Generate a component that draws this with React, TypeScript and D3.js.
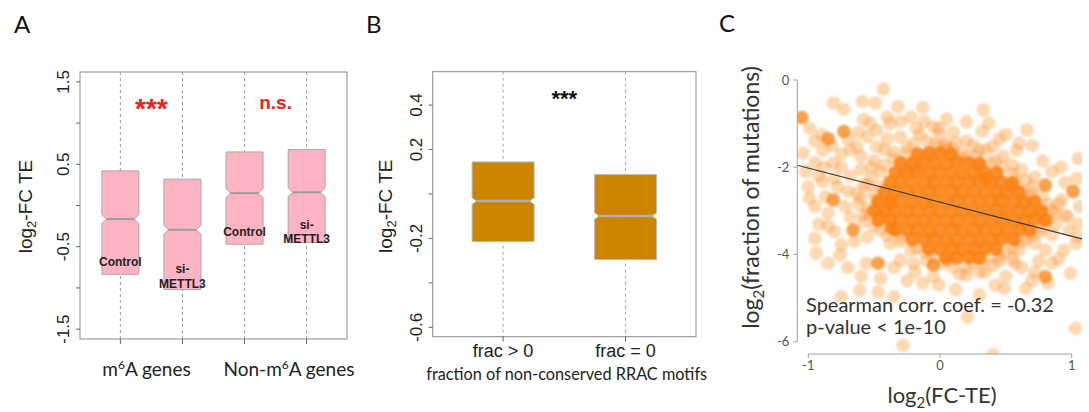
import React from "react";
import * as d3 from "d3";

const W = 1089;
const H = 412;
const ARIAL = "'Liberation Sans', Arial, sans-serif";
const CALIBRI = "Lato, 'Open Sans', sans-serif";

// ---------- Panel A data ----------
const aBoxLabels = [["Control"], ["si-", "METTL3"], ["Control"], ["si-", "METTL3"]];
const aQ3 = [0.42, 0.32, 0.65, 0.68];
const aMedian = [-0.165, -0.295, 0.15, 0.16];
const aQ1 = [-0.835, -1.02, -0.47, -0.45];
const aNotch = [0.055, 0.055, 0.055, 0.055];
const aLabelY = [-0.74, -0.82, -0.376, -0.285];
const aYTicks = [-1.5, -1, -0.5, 0, 0.5, 1, 1.5];
const aYTickLabels = ["-1.5", "", "-0.5", "", "0.5", "", "1.5"];
const aSignif = ["***", "n.s."];
const aGroupNames = ["m", "Non-m"];

// ---------- Panel B data ----------
const bCats = ["frac > 0", "frac = 0"];
const bQ3 = [0.144, 0.087];
const bMedian = [-0.032, -0.099];
const bQ1 = [-0.214, -0.295];
const bNotch = [0.015, 0.015];
const bYTicks = [-0.6, -0.4, -0.2, 0, 0.2, 0.4];
const bYTickLabels = ["-0.6", "", "-0.2", "", "0.2", "0.4"];

// ---------- Panel C data ----------
const cXTicks = [-1, 0, 1];
const cYTicks = [0, -2, -4, -6];
const cIntercept = -2.8;
const cSlope = -0.78;

const corePoints = [
  [-0.17, -1.69], [-0.085, -1.67], [0.0, -1.68], [0.085, -1.7],
  [-0.3, -1.9], [-0.21, -1.91], [-0.125, -1.89], [-0.04, -1.9], [0.05, -1.92], [0.13, -1.88], [0.215, -1.9], [0.3, -1.91],
  [-0.34, -2.12], [-0.25, -2.12], [-0.17, -2.1], [-0.08, -2.13], [0.0, -2.11], [0.09, -2.12], [0.17, -2.14], [0.26, -2.12], [0.34, -2.11], [0.43, -2.13],
  [-0.38, -2.34], [-0.3, -2.34], [-0.21, -2.33], [-0.12, -2.35], [-0.04, -2.34], [0.05, -2.33], [0.13, -2.35], [0.22, -2.34], [0.3, -2.33], [0.39, -2.35], [0.47, -2.34], [0.55, -2.36],
  [-0.42, -2.56], [-0.34, -2.56], [-0.25, -2.55], [-0.17, -2.57], [-0.08, -2.56], [0.0, -2.55], [0.09, -2.57], [0.17, -2.56], [0.26, -2.55], [0.34, -2.57], [0.43, -2.56], [0.51, -2.58], [0.6, -2.57],
  [-0.47, -2.78], [-0.38, -2.78], [-0.3, -2.77], [-0.21, -2.79], [-0.12, -2.78], [-0.04, -2.77], [0.05, -2.79], [0.13, -2.78], [0.22, -2.77], [0.3, -2.79], [0.39, -2.78], [0.47, -2.77], [0.56, -2.79], [0.64, -2.8], [0.72, -2.79],
  [-0.5, -3.0], [-0.42, -3.0], [-0.34, -2.99], [-0.25, -3.01], [-0.17, -3.0], [-0.08, -2.99], [0.0, -3.01], [0.09, -3.0], [0.17, -2.99], [0.26, -3.01], [0.34, -3.0], [0.43, -2.99], [0.51, -3.01], [0.6, -3.0], [0.68, -3.02], [0.77, -3.01],
  [-0.47, -3.22], [-0.38, -3.22], [-0.3, -3.21], [-0.21, -3.23], [-0.12, -3.22], [-0.04, -3.21], [0.05, -3.23], [0.13, -3.22], [0.22, -3.21], [0.3, -3.23], [0.39, -3.22], [0.47, -3.21], [0.56, -3.23], [0.64, -3.22], [0.72, -3.2], [0.8, -3.22],
  [-0.34, -3.44], [-0.25, -3.44], [-0.17, -3.43], [-0.08, -3.45], [0.0, -3.44], [0.09, -3.43], [0.17, -3.45], [0.26, -3.44], [0.34, -3.43], [0.43, -3.45], [0.51, -3.44], [0.6, -3.43], [0.68, -3.45],
  [-0.21, -3.66], [-0.12, -3.66], [-0.04, -3.65], [0.05, -3.67], [0.13, -3.66], [0.22, -3.65], [0.3, -3.67], [0.39, -3.66], [0.47, -3.65], [0.56, -3.66],
  [-0.085, -3.88], [0.0, -3.88], [0.09, -3.87], [0.17, -3.89], [0.26, -3.88], [0.34, -3.87], [0.425, -3.88],
  [0.045, -4.08], [0.13, -4.08], [0.22, -4.07], [0.3, -4.09],
];

const cloudPoints = [
  // outliers
  [-0.43, -0.21], [-0.81, -0.53], [-0.73, -0.67], [-0.59, -0.5], [-0.49, -0.53], [-0.32, -0.61], [-0.13, -0.63],
  [-0.99, -1.11], [-0.89, -1.61], [-1.04, -1.68], [-0.81, -1.91], [-0.99, -2.71], [-0.87, -2.68], [-0.63, -2.6],
  [-0.89, -2.33], [-0.53, -1.0], [-0.38, -1.0], [-0.63, -1.53], [-0.48, -1.53], [-0.3, -1.3], [-0.18, -1.11],
  [-0.05, -1.07], [-0.53, -3.06],
  [0.33, -0.69], [0.2, -0.96], [0.37, -0.99], [0.66, -1.15], [0.32, -1.18], [-0.01, -1.11], [0.4, -1.53], [0.58, -1.61],
  [0.04, -1.53], [1.05, -1.8], [1.04, -2.26], [0.92, -2.75], [0.62, -2.06], [0.72, -2.22], [0.47, -1.99], [0.95, -3.1],
  [0.85, -2.98], [0.57, -2.29], [0.21, -1.76],
  [-0.95, -3.63], [-0.94, -3.97], [-0.8, -3.48], [-0.75, -3.78], [-0.76, -4.01], [-0.56, -4.2], [-0.61, -4.82],
  [-0.75, -4.97], [-0.47, -4.86], [-0.35, -4.97], [-0.28, -6.08], [-0.38, -3.75], [-0.3, -4.13], [-0.19, -4.4], [-0.13, -4.66],
  [0.99, -4.43], [1.03, -5.69], [0.85, -4.2], [0.65, -4.78], [0.49, -4.78], [0.42, -4.7], [0.21, -5.43], [0.3, -4.93],
  [0.06, -4.13], [0.2, -4.47], [0.34, -4.4], [0.72, -4.4], [0.94, -3.9], [1.03, -3.75], [0.97, -3.14], [0.57, -4.2],
  [-0.01, -4.7], [0.4, -6.3],
  // halo around the dense core
  [-0.6, -1.75], [-0.5, -1.85], [-0.42, -1.6], [-0.35, -1.8], [-0.25, -1.55], [-0.2, -1.85], [-0.1, -1.4], [-0.08, -1.7],
  [0.0, -1.25], [0.05, -1.6], [0.12, -1.45], [0.15, -1.8], [0.25, -1.5], [0.28, -1.75], [0.35, -1.6], [0.38, -1.9],
  [0.48, -1.75], [0.55, -1.95], [-0.55, -1.3], [-0.4, -1.35], [-0.15, -1.25], [0.1, -1.2], [0.45, -1.35], [0.6, -1.45],
  [-0.7, -1.35], [-0.28, -2.05], [0.3, -2.0], [-0.15, -2.0],
  [-0.75, -2.0], [-0.68, -2.2], [-0.6, -2.05], [-0.52, -2.25], [-0.45, -2.1], [-0.78, -2.45], [-0.7, -2.55], [-0.58, -2.4],
  [-0.5, -2.6], [-0.45, -2.45], [-0.72, -2.9], [-0.62, -2.85], [-0.55, -2.95], [-0.48, -2.75], [-0.68, -3.15], [-0.58, -3.25],
  [-0.5, -3.35], [-0.45, -3.1], [-0.4, -3.55], [-0.55, -3.6], [-0.85, -3.05], [-0.92, -2.2], [-0.8, -2.25], [-0.65, -3.7],
  [0.55, -2.45], [0.62, -2.55], [0.7, -2.45], [0.78, -2.65], [0.68, -2.7], [0.75, -2.95], [0.82, -3.2], [0.78, -3.4],
  [0.7, -3.55], [0.62, -3.7], [0.72, -3.75], [0.85, -3.55], [0.88, -3.3], [0.9, -2.85], [0.6, -3.9], [0.5, -3.95], [0.8, -3.9],
  [-0.3, -3.7], [-0.22, -3.9], [-0.12, -3.95], [-0.1, -4.15], [0.02, -4.2], [0.1, -4.3], [0.25, -4.2], [0.35, -4.1],
  [0.4, -4.25], [0.45, -4.05], [0.15, -4.45], [-0.2, -4.2], [0.3, -4.4], [0.55, -4.1], [0.62, -4.3], [-0.35, -4.3],
  [-0.95, -1.4], [-0.9, -1.25], [-0.82, -1.5], [-0.75, -1.7], [-0.68, -1.6], [-0.62, -1.2], [-0.58, -0.9], [-0.48, -1.15],
  [-0.4, -0.85], [-0.3, -0.95], [-0.22, -0.85], [-0.12, -0.95], [0.05, -0.9], [-0.95, -1.9], [-0.88, -2.0], [-1.02, -2.1],
  [-1.0, -2.45], [-0.95, -2.9], [-0.92, -3.3], [-0.85, -3.35],
  [0.5, -1.25], [0.7, -1.5], [0.78, -1.85], [0.85, -2.1], [0.95, -2.35], [0.92, -2.0], [0.98, -3.45], [1.05, -3.3],
  [1.06, -2.9], [1.05, -3.6], [0.9, -4.1], [0.75, -4.15], [0.82, -4.65],
  [-0.6, -4.5], [-0.45, -4.55], [-0.25, -4.6], [-0.05, -4.5], [0.12, -4.8], [0.5, -4.5], [0.7, -4.6], [-0.7, -4.3], [-0.85, -4.2],
  // second ring, close to the core edge
  [-0.52, -2.0], [-0.42, -1.95], [-0.35, -1.65], [-0.2, -1.45], [0.2, -1.4], [0.3, -1.6], [0.42, -1.85], [0.55, -2.15],
  [0.65, -2.3], [0.7, -2.6], [0.82, -2.85], [0.88, -3.05], [0.75, -3.5], [0.65, -3.65], [0.55, -3.85], [0.45, -4.15],
  [0.2, -4.3], [-0.05, -4.05], [-0.18, -3.85], [-0.3, -3.6], [-0.45, -3.45], [-0.58, -3.1], [-0.6, -2.7], [-0.55, -2.4],
  [-0.04, -1.46], [0.045, -1.47], [-0.255, -1.68], [0.17, -1.69], [-0.02, -1.55], [0.1, -1.58],
];

const darkPoints = [
  [-1.05, -0.86], [-0.85, -1.35], [-0.73, -1.18], [-0.81, -2.75], [-0.38, -2.83], [0.8, -2.41], [1.01, -2.56],
  [0.35, -2.26], [-0.66, -3.44], [-0.47, -4.2], [-0.37, -3.4], [-0.05, -4.24], [0.8, -4.51],
];

function notchPath(cx: number, hw: number, yTop: number, yMed: number, yBot: number, nh: number, ni: number) {
  return `M${cx - hw},${yTop}H${cx + hw}V${yMed - nh}L${cx + hw - ni},${yMed}L${cx + hw},${yMed + nh}V${yBot}H${cx - hw}V${yMed + nh}L${cx - hw + ni},${yMed}L${cx - hw},${yMed - nh}Z`;
}

function PanelA() {
  const L = 80, R = 347, T = 72, B = 339;
  const x = d3.scaleLinear().domain([0.35, 4.65]).range([L, R]);
  const y = d3.scaleLinear().domain([-1.62, 1.62]).range([B, T]);
  const hw = 18.5, ni = 4.5;
  const idx = d3.range(aQ3.length);
  return (
    <g>
      <text x={14} y={33} fontFamily={CALIBRI} fontSize={24} fill="#111">A</text>
      {idx.map((i) => (
        <line key={"w" + i} x1={x(i + 1)} x2={x(i + 1)} y1={T} y2={B} stroke="#9a9a9a" strokeDasharray="3,3" strokeWidth={1} />
      ))}
      {idx.map((i) => {
        const cx = x(i + 1);
        const ym = y(aMedian[i]);
        const nh = Math.abs(y(aMedian[i] + aNotch[i]) - ym);
        return (
          <g key={"b" + i}>
            <path d={notchPath(cx, hw, y(aQ3[i]), ym, y(aQ1[i]), nh, ni)} fill="#FFB3C3" stroke="#a8a8a8" strokeWidth={1} />
            <line x1={cx - hw + ni} x2={cx + hw - ni} y1={ym} y2={ym} stroke="#9c9c9c" strokeWidth={2} />
            {aBoxLabels[i].map((t, k) => (
              <text key={k} x={cx} y={y(aLabelY[i]) + k * 14.5} textAnchor="middle" fontFamily={ARIAL} fontWeight="bold" fontSize={12} fill="#222">{t}</text>
            ))}
          </g>
        );
      })}
      <rect x={L} y={T} width={R - L} height={B - T} fill="none" stroke="#8a8a8a" strokeWidth={1} />
      {aYTicks.map((v, i) => (
        <g key={"yt" + i}>
          <line x1={L - 4} x2={L} y1={y(v)} y2={y(v)} stroke="#666" />
          {aYTickLabels[i] && (
            <text transform={`translate(${L - 11},${y(v)}) rotate(-90)`} textAnchor="middle" fontFamily={ARIAL} fontSize={17} fill="#222">{aYTickLabels[i]}</text>
          )}
        </g>
      ))}
      {idx.map((i) => (
        <line key={"xt" + i} x1={x(i + 1)} x2={x(i + 1)} y1={B} y2={B + 5} stroke="#666" />
      ))}
      <text transform={`translate(32,${(T + B) / 2 + 1}) rotate(-90)`} textAnchor="middle" fontFamily={ARIAL} fontSize={19} fill="#222">
        log<tspan fontSize={13} dy={4}>2</tspan><tspan dy={-4}>-FC TE</tspan>
      </text>
      <text x={(x(1) + x(2)) / 2} y={118} textAnchor="middle" fontFamily={ARIAL} fontWeight="bold" fontSize={28} fill="#EE2222">{aSignif[0]}</text>
      <text x={(x(3) + x(4)) / 2} y={109} textAnchor="middle" fontFamily={ARIAL} fontWeight="bold" fontSize={19} fill="#EE2222">{aSignif[1]}</text>
      <text x={146.5} y={375.7} textAnchor="middle" fontFamily={CALIBRI} fontSize={19} fill="#222">
        {aGroupNames[0]}<tspan fontSize={12} dy={-7}>6</tspan><tspan dy={7}>A genes</tspan>
      </text>
      <text x={289} y={375.7} textAnchor="middle" fontFamily={CALIBRI} fontSize={19} fill="#222">
        {aGroupNames[1]}<tspan fontSize={12} dy={-7}>6</tspan><tspan dy={7}>A genes</tspan>
      </text>
    </g>
  );
}

function PanelB() {
  const L = 432.7, R = 696, T = 71.7, B = 336.7;
  const x = d3.scaleLinear().domain([0.425, 2.575]).range([L, R]);
  const y = d3.scaleLinear().domain([-0.642, 0.55]).range([B, T]);
  const hw = 31, ni = 4.5;
  const idx = d3.range(bQ3.length);
  return (
    <g>
      <text x={366} y={33} fontFamily={CALIBRI} fontSize={24} fill="#111">B</text>
      {idx.map((i) => (
        <line key={"w" + i} x1={x(i + 1)} x2={x(i + 1)} y1={T} y2={B} stroke="#a5a5a5" strokeDasharray="3,3" strokeWidth={1} />
      ))}
      {idx.map((i) => {
        const cx = x(i + 1);
        const ym = y(bMedian[i]);
        const nh = Math.abs(y(bMedian[i] + bNotch[i]) - ym);
        return (
          <g key={"b" + i}>
            <path d={notchPath(cx, hw, y(bQ3[i]), ym, y(bQ1[i]), nh, ni)} fill="#CD8500" stroke="#b8b8b8" strokeWidth={1} />
            <line x1={cx - hw + ni} x2={cx + hw - ni} y1={ym} y2={ym} stroke="#b0b0b0" strokeWidth={2.5} />
          </g>
        );
      })}
      <rect x={L} y={T} width={R - L} height={B - T} fill="none" stroke="#8a8a8a" strokeWidth={1} />
      {bYTicks.map((v, i) => (
        <g key={"yt" + i}>
          <line x1={L - 4} x2={L} y1={y(v)} y2={y(v)} stroke="#666" />
          {bYTickLabels[i] && (
            <text transform={`translate(${L - 11},${y(v)}) rotate(-90)`} textAnchor="middle" fontFamily={ARIAL} fontSize={17} fill="#222">{bYTickLabels[i]}</text>
          )}
        </g>
      ))}
      {idx.map((i) => (
        <g key={"xt" + i}>
          <line x1={x(i + 1)} x2={x(i + 1)} y1={B} y2={B + 5} stroke="#666" />
          <text x={x(i + 1)} y={357} textAnchor="middle" fontFamily={ARIAL} fontSize={18} fill="#222">{bCats[i]}</text>
        </g>
      ))}
      <text transform={`translate(392,${(T + B) / 2 + 2}) rotate(-90)`} textAnchor="middle" fontFamily={ARIAL} fontSize={19} fill="#222">
        log<tspan fontSize={13} dy={4}>2</tspan><tspan dy={-4}>-FC TE</tspan>
      </text>
      <text x={(x(1) + x(2)) / 2} y={106} textAnchor="middle" fontFamily={ARIAL} fontWeight="bold" fontSize={22} fill="#111">***</text>
      <text x={566.7} y={380} textAnchor="middle" fontFamily={CALIBRI} fontSize={16.3} fill="#222">fraction of non-conserved RRAC motifs</text>
    </g>
  );
}

function PanelC() {
  const x = d3.scaleLinear().domain([-1, 1]).range([808.3, 1071.7]);
  const y = d3.scaleLinear().domain([-6, 0]).range([341.7, 80]);
  const AX = 797.3, AY = 354;
  const clipL = 797.3, clipR = 1082, clipT = 60, clipB = 354;
  const fill = "#F9800F";
  const r = 6.8;
  const lx0 = x.invert(clipL), lx1 = x.invert(clipR);
  return (
    <g>
      <defs>
        <clipPath id="cclip">
          <rect x={clipL} y={clipT} width={clipR - clipL} height={clipB - clipT} />
        </clipPath>
        <filter id="soft" x="-5%" y="-5%" width="110%" height="110%">
          <feGaussianBlur stdDeviation={0.8} />
        </filter>
      </defs>
      <text x={719} y={32} fontFamily={CALIBRI} fontSize={24} fill="#111">C</text>
      <g clipPath="url(#cclip)">
        <g filter="url(#soft)">
          {cloudPoints.map((p, i) => (
            <circle key={"c" + i} cx={x(p[0])} cy={y(p[1])} r={r} fill={fill} fillOpacity={0.3} />
          ))}
          {darkPoints.map((p, i) => (
            <circle key={"d" + i} cx={x(p[0])} cy={y(p[1])} r={r} fill={fill} fillOpacity={0.75} />
          ))}
          {corePoints.map((p, i) => (
            <circle key={"k" + i} cx={x(p[0])} cy={y(p[1])} r={r} fill={fill} fillOpacity={0.88} />
          ))}
        </g>
        <line x1={x(lx0)} y1={y(cIntercept + cSlope * lx0)} x2={x(lx1)} y2={y(cIntercept + cSlope * lx1)} stroke="#3a3a3a" strokeWidth={1.2} />
      </g>
      <line x1={AX} x2={AX} y1={y(0)} y2={y(-6)} stroke="#a0a0a0" />
      {cYTicks.map((v) => (
        <g key={"cy" + v}>
          <line x1={AX - 4} x2={AX} y1={y(v)} y2={y(v)} stroke="#a0a0a0" />
          <text x={AX - 8} y={y(v)} dy="0.35em" textAnchor="end" fontFamily={CALIBRI} fontSize={13} fill="#555">{v}</text>
        </g>
      ))}
      <line x1={x(-1)} x2={x(1)} y1={AY} y2={AY} stroke="#a0a0a0" />
      {cXTicks.map((v) => (
        <g key={"cx" + v}>
          <line x1={x(v)} x2={x(v)} y1={AY} y2={AY + 4} stroke="#a0a0a0" />
          <text x={x(v)} y={370} textAnchor="middle" fontFamily={CALIBRI} fontSize={13} fill="#555">{v}</text>
        </g>
      ))}
      <text x={806} y={311.7} fontFamily={CALIBRI} fontSize={20} fill="#333">Spearman corr. coef. = -0.32</text>
      <text x={806} y={333.5} fontFamily={CALIBRI} fontSize={20} fill="#333">p-value &lt; 1e-10</text>
      <text x={942} y={403} textAnchor="middle" fontFamily={CALIBRI} fontSize={22} fill="#333">
        log<tspan fontSize={15} dy={5}>2</tspan><tspan dy={-5}>(FC-TE)</tspan>
      </text>
      <text transform={`translate(759,197.5) rotate(-90)`} textAnchor="middle" fontFamily={CALIBRI} fontSize={23} fill="#333">
        log<tspan fontSize={15} dy={5}>2</tspan><tspan dy={-5}>(fraction of mutations)</tspan>
      </text>
    </g>
  );
}

export default function App() {
  return (
    <div style={{ position: "fixed", left: 0, top: 0, width: W, height: H, background: "#fff" }}>
      <svg width={W} height={H} viewBox={`0 0 ${W} ${H}`} style={{ display: "block" }}>
        <rect width={W} height={H} fill="#fff" />
        <PanelA />
        <PanelB />
        <PanelC />
      </svg>
    </div>
  );
}
